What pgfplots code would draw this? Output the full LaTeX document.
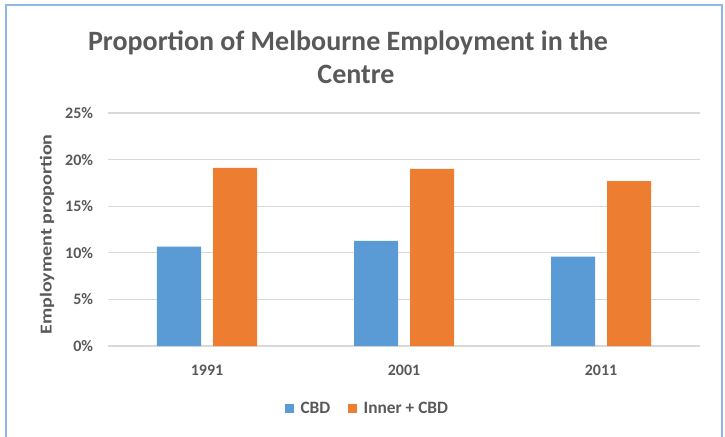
\documentclass[border=0pt]{standalone}
\usepackage{pgfplots}
\pgfplotsset{compat=1.18}
\usepackage{fontspec}
\setmainfont{Carlito}
\definecolor{cblue}{HTML}{5B9BD5}
\definecolor{corange}{HTML}{ED7D31}
\definecolor{gridc}{HTML}{D9D9D9}
\definecolor{txt}{HTML}{595959}
\definecolor{framec}{HTML}{8FB8E3}
\newcommand{\PX}[2]{({#1*0.75pt},{(436-#2)*0.75pt})}
\begin{document}
\begin{tikzpicture}
\path[use as bounding box] (0,0) rectangle ({725*0.75pt},{436*0.75pt});
\draw[framec, line width=1.5pt] \PX{5.5}{440} -- \PX{5.5}{5.5} -- \PX{721.5}{5.5} -- \PX{721.5}{440};
\node[anchor=base, text=txt, inner sep=0pt, font=\bfseries\fontsize{21}{25}\selectfont] at \PX{348}{51}
  {Proportion of Melbourne Employment in the};
\node[anchor=base, text=txt, inner sep=0pt, font=\bfseries\fontsize{21}{25}\selectfont] at \PX{356}{84}
  {Centre};
\node[rotate=90, text=txt, font=\bfseries\fontsize{12.5}{15}\selectfont] at \PX{47}{234.5} {\scalebox{1.2}[1]{Employment proportion}};
\begin{axis}[
  at={(81.375pt,67.5pt)}, anchor=south west,
  scale only axis, width=443.25pt, height=174.75pt,
  xmin=-0.5, xmax=2.5, ymin=0, ymax=25,
  xtick={0,1,2}, xticklabels={1991,2001,2011},
  ytick={0,5,...,25},
  yticklabel={\pgfmathprintnumber{\tick}\%},
  /pgf/number format/assume math mode=true,
  ymajorgrids, grid style={gridc, line width=0.8pt},
  axis line style={draw=none},
  major tick length=0pt,
  tick label style={text=txt, font=\bfseries\fontsize{12}{14}\selectfont},
  x tick label style={yshift=-11pt},
  y tick label style={xshift=-8pt},
  ybar=9pt, bar width=33pt,
  legend style={at={(0.4385,-0.27)}, anchor=center, draw=none, legend columns=2,
    font=\bfseries\fontsize{13}{15}\selectfont, text=txt,
    /tikz/every even column/.append style={column sep=11pt},
    /tikz/every odd column/.append style={column sep=0pt}},
  legend image code/.code={\fill[#1] (0pt,-3.4pt) rectangle (7pt,3.6pt); \path (10pt,0pt);},
]
\addplot[fill=cblue, draw=none] coordinates {(0,10.65) (1,11.27) (2,9.6)};
\addplot[fill=corange, draw=none] coordinates {(0,19.1) (1,19.0) (2,17.7)};
\legend{CBD, Inner + CBD}
\end{axis}
\end{tikzpicture}
\end{document}
